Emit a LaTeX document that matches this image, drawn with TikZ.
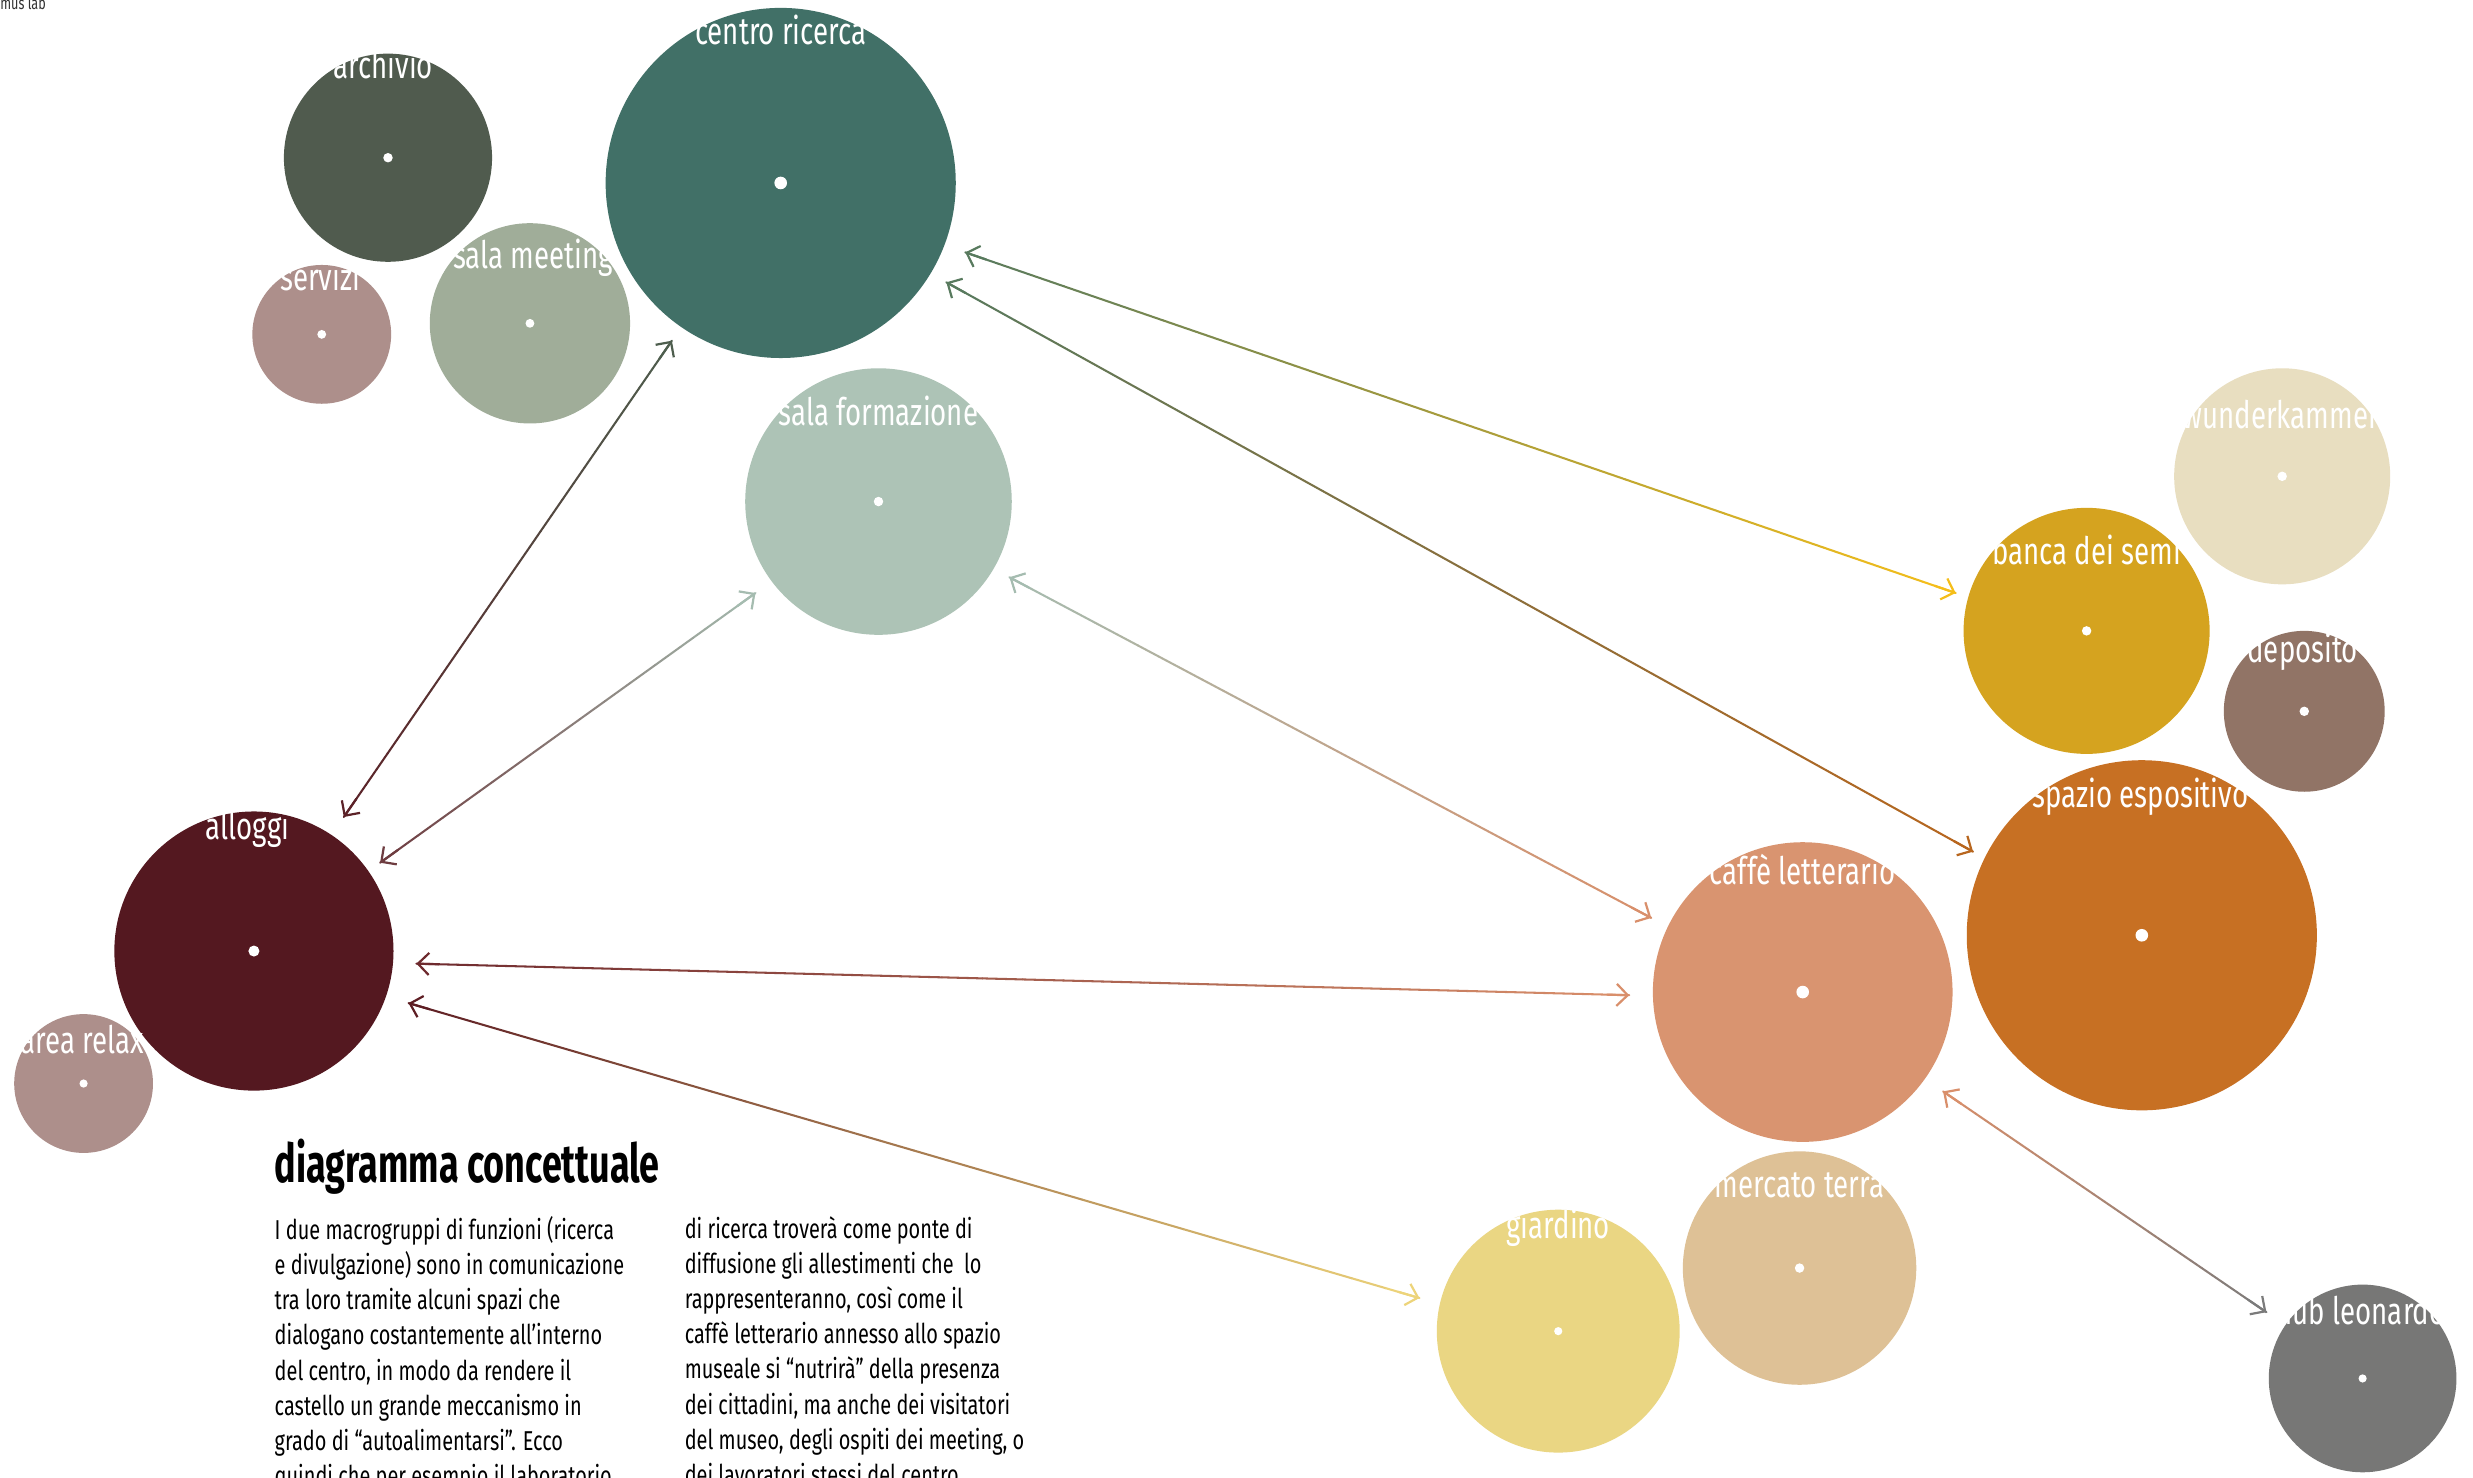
\documentclass[tikz,border=0pt]{standalone}
\usepackage{fontspec}
\setmainfont{Fira Sans}[FakeStretch=0.73]
\newfontfamily\headfont{Fira Sans}[FakeStretch=0.67]
\usetikzlibrary{calc,arrows.meta}

% fill colours of the functions
\definecolor{cArchivio}{HTML}{505B4E}
\definecolor{cCentro}{HTML}{417067}
\definecolor{cServizi}{HTML}{AD8F8B}
\definecolor{cMeeting}{HTML}{A0AD99}
\definecolor{cFormazione}{HTML}{ADC3B6}
\definecolor{cWunder}{HTML}{E8DEC0}
\definecolor{cBanca}{HTML}{D5A31F}
\definecolor{cDeposito}{HTML}{917466}
\definecolor{cSpazio}{HTML}{C77023}
\definecolor{cCaffe}{HTML}{D99470}
\definecolor{cAlloggi}{HTML}{541820}
\definecolor{cRelax}{HTML}{AD8F8B}
\definecolor{cMercato}{HTML}{DEC196}
\definecolor{cGiardino}{HTML}{EAD683}
\definecolor{cHub}{HTML}{777776}
% end colours of the links
\definecolor{kGreen}{HTML}{587A5E}
\definecolor{kDarkGreen}{HTML}{4E5E4E}
\definecolor{kYellow}{HTML}{F5BE1A}
\definecolor{kOrange}{HTML}{B8661E}
\definecolor{kMaroon}{HTML}{5C2228}
\definecolor{kSage}{HTML}{A5BCB0}
\definecolor{kMauve}{HTML}{6E3C40}
\definecolor{kSalmon}{HTML}{D98F6B}
\definecolor{kRed}{HTML}{6E2A2E}
\definecolor{kDeepRed}{HTML}{5E1E24}
\definecolor{kSand}{HTML}{EDD47A}
\definecolor{kGrey}{HTML}{7B7B7B}

\tikzset{
  blob/.style={circle, inner sep=0pt, minimum size=#1},
  lbl/.style={text=white, font=\fontsize{24}{24}\selectfont, anchor=base, inner sep=0pt},
  link/.style={line width=1.3pt, line cap=round},
  barb/.style={line width=1.4pt, line cap=round, line join=round,
    -{Straight Barb[length=7pt,width=14pt,line width=1.4pt]}},
  body/.style={anchor=north west, inner sep=0pt, align=left,
    font=\fontsize{17.3}{22.3}\selectfont},
}

% a two-headed link whose colour fades from #3 (at #1) to #4 (at #2)
\newcommand\gradlink[4]{%
  \foreach \k in {1,...,30}{%
    \pgfmathsetmacro\ta{(\k-1)/30}%
    \pgfmathsetmacro\tb{\k/30}%
    \pgfmathtruncatemacro\pc{100-(\k-0.5)*100/30}%
    \draw[link, #3!\pc!#4] ($(#1)!\ta!(#2)$) -- ($(#1)!\tb!(#2)$);%
  }%
  \draw[barb, #3] ($(#1)!14pt!(#2)$) -- (#1);%
  \draw[barb, #4] ($(#2)!14pt!(#1)$) -- (#2);%
}

\begin{document}
\begin{tikzpicture}[x=1pt,y=-1pt]
\useasboundingbox (0,0) rectangle (1568,937);
\fill[white] (0,0) rectangle (1568,937);
\clip (0,0) rectangle (1568,937);

% functions
\node[blob=132, fill=cArchivio]   (ar) at (246,100) {};
\node[blob=222, fill=cCentro]     (cr) at (495,116) {};
\node[blob=88,  fill=cServizi]    (sv) at (204,212) {};
\node[blob=127, fill=cMeeting]    (sm) at (336,205) {};
\node[blob=169, fill=cFormazione] (sf) at (557,318) {};
\node[blob=137, fill=cWunder]     (wk) at (1447,302) {};
\node[blob=156, fill=cBanca]      (bs) at (1323,400) {};
\node[blob=102, fill=cDeposito]   (dp) at (1461,451) {};
\node[blob=222, fill=cSpazio]     (se) at (1358,593) {};
\node[blob=190, fill=cCaffe]      (cl) at (1143,629) {};
\node[blob=177, fill=cAlloggi]    (al) at (161,603) {};
\node[blob=88,  fill=cRelax]      (rx) at (53,687) {};
\node[blob=148, fill=cMercato]    (mt) at (1141,804) {};
\node[blob=154, fill=cGiardino]   (gd) at (988,844) {};
\node[blob=119, fill=cHub]        (hl) at (1498,874) {};

% centre marks
\foreach \n/\r in {ar/3, cr/4, sv/2.8, sm/2.8, sf/3, wk/3, bs/3, dp/3, se/4,
                   cl/4, al/3.5, rx/2.6, mt/3, gd/2.6, hl/2.6}
  \fill[white] (\n.center) circle (\r pt);

% names
\node[lbl] (ar-t) at (243,50)  {archivio};
\node[lbl] (cr-t) at (495,28)  {centro ricerca};
\node[lbl] (sv-t) at (203,184) {servizi};
\node[lbl] (sm-t) at (338,170) {sala meeting};
\node[lbl] (sf-t) at (557,270) {sala formazione};
\node[lbl] (wk-t) at (1446,272) {wunderkammer};
\node[lbl] (bs-t) at (1323,358) {banca dei semi};
\node[lbl] (dp-t) at (1460,420) {deposito};
\node[lbl] (se-t) at (1357,512) {spazio espositivo};
\node[lbl] (cl-t) at (1143,561) {caffè letterario};
\node[lbl] (al-t) at (157,532) {alloggi};
\node[lbl] (rx-t) at (52,668)  {area relax};
\node[lbl] (mt-t) at (1141,759) {mercato terra};
\node[lbl] (gd-t) at (988,785) {giardino};
\node[lbl] (hl-t) at (1497,840) {hub leonardo};

% link end points
\coordinate (l1a) at ($(cr.center)+(117,44)$);
\coordinate (l1b) at ($(bs.center)+(-83,-24)$);
\coordinate (l2a) at ($(cr.center)+(105,63)$);
\coordinate (l2b) at ($(se.center)+(-107,-53)$);
\coordinate (l3a) at ($(cr.center)+(-69,100)$);
\coordinate (l3b) at ($(al.center)+(57,-85)$);
\coordinate (l4a) at ($(sf.center)+(-78,58)$);
\coordinate (l4b) at ($(al.center)+(80,-56)$);
\coordinate (l5a) at ($(sf.center)+(83,48)$);
\coordinate (l5b) at ($(cl.center)+(-96,-47)$);
\coordinate (l6a) at ($(al.center)+(103,8)$);
\coordinate (l6b) at ($(cl.center)+(-110,2)$);
\coordinate (l7a) at ($(al.center)+(98,33)$);
\coordinate (l7b) at ($(gd.center)+(-88,-21)$);
\coordinate (l8a) at ($(cl.center)+(89,63)$);
\coordinate (l8b) at ($(hl.center)+(-61,-42)$);

% links
\gradlink{l1a}{l1b}{kGreen}{kYellow}
\gradlink{l2a}{l2b}{kGreen}{kOrange}
\gradlink{l3a}{l3b}{kDarkGreen}{kMaroon}
\gradlink{l4a}{l4b}{kSage}{kMauve}
\gradlink{l5a}{l5b}{kSage}{kSalmon}
\gradlink{l6a}{l6b}{kRed}{kSalmon}
\gradlink{l7a}{l7b}{kDeepRed}{kSand}
\gradlink{l8a}{l8b}{kSalmon}{kGrey}

% corner tag
\node[anchor=base west, inner sep=0pt, text=black!80, font=\fontsize{11}{11}\selectfont] (tag) at (0,6) {mus lab};

% title and description
\node[anchor=base west, inner sep=0pt, font=\headfont\bfseries\fontsize{34}{34}\selectfont] (title) at (174,750) {diagramma concettuale};

\node[body] (col1) at (174,771) {%
I due macrogruppi di funzioni (ricerca\\
e divulgazione) sono in comunicazione\\
tra loro tramite alcuni spazi che\\
dialogano costantemente all’interno\\
del centro, in modo da rendere il\\
castello un grande meccanismo in\\
grado di “autoalimentarsi”. Ecco\\
quindi che per esempio il laboratorio};

\node[body] (col2) at (434,771) {%
di ricerca troverà come ponte di\\
diffusione gli allestimenti che\ \ lo\\
rappresenteranno, così come il\\
caffè letterario annesso allo spazio\\
museale si “nutrirà” della presenza\\
dei cittadini, ma anche dei visitatori\\
del museo, degli ospiti dei meeting, o\\
dei lavoratori stessi del centro};
\end{tikzpicture}
\end{document}
